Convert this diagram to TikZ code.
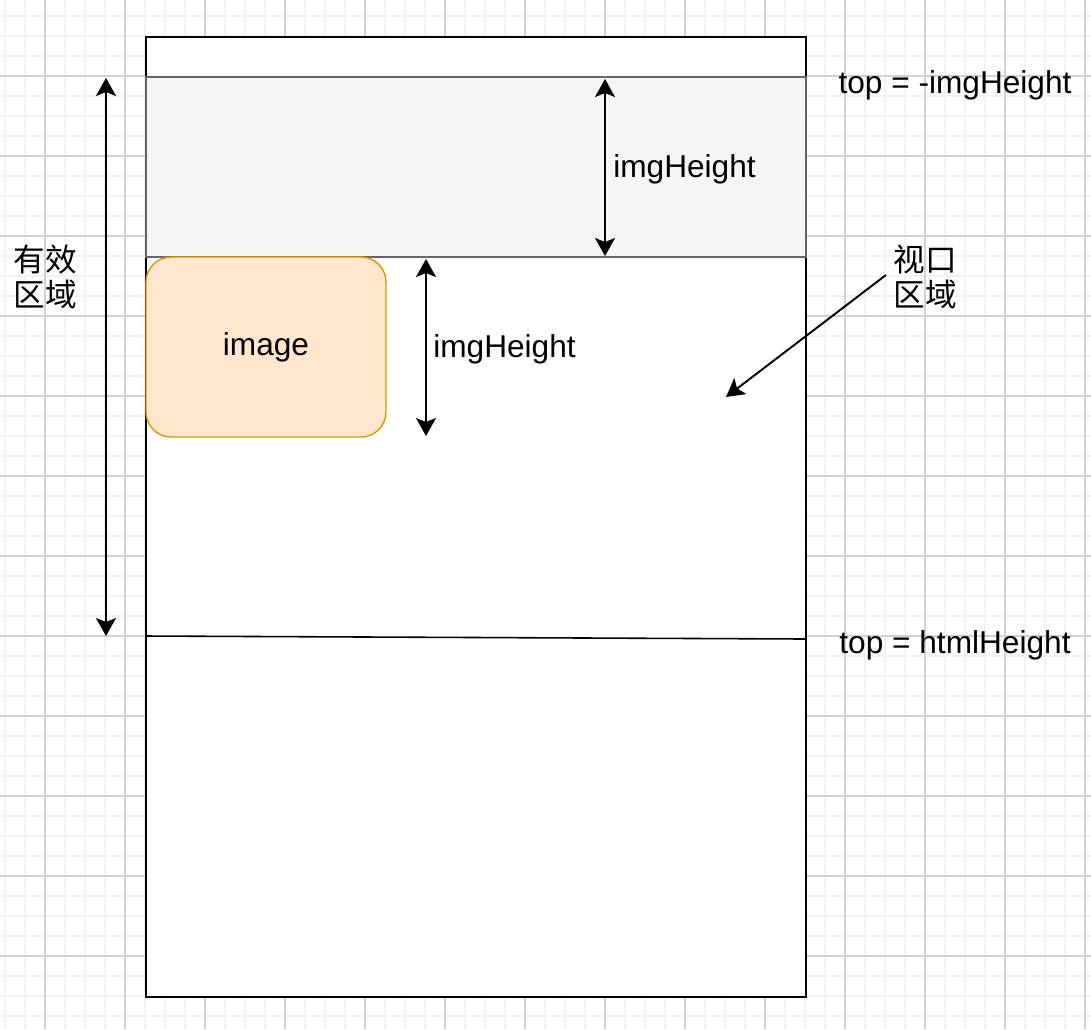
\documentclass[tikz,border=0pt]{standalone}
\usepackage{fontspec}
\setmainfont{Liberation Sans}
\newfontfamily\cjk{Noto Sans CJK SC}
\usetikzlibrary{arrows.meta,positioning}
\tikzset{>={Stealth[length=0.36cm,width=0.4cm,inset=0.08cm]}}
\definecolor{gridMinor}{HTML}{F2F2F2}
\definecolor{gridMajor}{HTML}{D2D2D2}
\definecolor{bandFill}{HTML}{F5F5F5}
\definecolor{bandLine}{HTML}{666666}
\definecolor{imgFill}{HTML}{FFE6CC}
\definecolor{imgLine}{HTML}{D79B00}
\colorlet{penColor}{black}
\tikzset{
  dim/.style={<->,line width=1.1pt,penColor},
  lbl/.style={inner sep=0pt,text=black},
}

\begin{document}
\begin{tikzpicture}[x=0.02cm,y=-0.02cm,font=\fontsize{18}{22}\selectfont]
      \useasboundingbox (0,0) rectangle (1091,1029);
      % background grid
      \foreach \gx in {5,25,...,1085} \draw[gridMinor,line width=0.6pt] (\gx,0) -- (\gx,1029);
      \foreach \gy in {16,36,...,1016} \draw[gridMinor,line width=0.6pt] (0,\gy) -- (1091,\gy);
      \foreach \gx in {45,125,...,1085} \draw[gridMajor,line width=0.6pt] (\gx,0) -- (\gx,1029);
      \foreach \gy in {76,156,...,996} \draw[gridMajor,line width=0.6pt] (0,\gy) -- (1091,\gy);
      % page and bands
      \node (page) [draw=penColor,fill=white,line width=1.1pt,minimum width=13.2cm,minimum height=19.2cm,inner sep=0pt] at (476,517) {};
      \node (band) [draw=bandLine,fill=bandFill,line width=0.9pt,minimum width=13.2cm,minimum height=3.6cm,inner sep=0pt] at (476,167) {};
      \node (img) [draw=imgLine,fill=imgFill,line width=0.8pt,rounded corners=0.5cm,minimum width=4.8cm,minimum height=3.6cm,inner sep=0pt] at (266,347) {image};
      % html height line
      \coordinate (hl) at (146,636);
      \coordinate (hr) at (806,639);
      \draw[penColor,line width=0.9pt] (hl) -- (hr);
      % dimension arrows
      \coordinate (effTop) at (106,78);
      \coordinate (effBot) at (106,636);
      \draw[dim] (effTop) -- (effBot);
      \coordinate (bandTop) at (605,79);
      \coordinate (bandBot) at (605,256);
      \draw[dim] (bandTop) -- (bandBot);
      \coordinate (imgTop) at (426,259);
      \coordinate (imgBot) at (426,436);
      \draw[dim] (imgTop) -- (imgBot);
      % labels
      \node (topNeg) [lbl] at (955,85) {top = -imgHeight};
      \node (bandH) [lbl,anchor=west] at (613,169) {imgHeight};
      \node (imgH) [lbl,anchor=west] at (433,349) {imgHeight};
      \node (topHtml) [lbl] at (955,645) {top = htmlHeight};
      \node (eff) [lbl,align=center,font=\fontsize{18}{20.4}\selectfont\cjk] at (45,277) {有效\\区域};
      \node (view) [lbl,align=center,font=\fontsize{18}{20.4}\selectfont\cjk] at (925,277) {视口\\区域};
      \coordinate (viewTail) at (886,275);
      \coordinate (viewHead) at (726,397);
      \draw[->,line width=1.1pt,penColor] (viewTail) -- (viewHead);
    \end{tikzpicture}
\end{document}
